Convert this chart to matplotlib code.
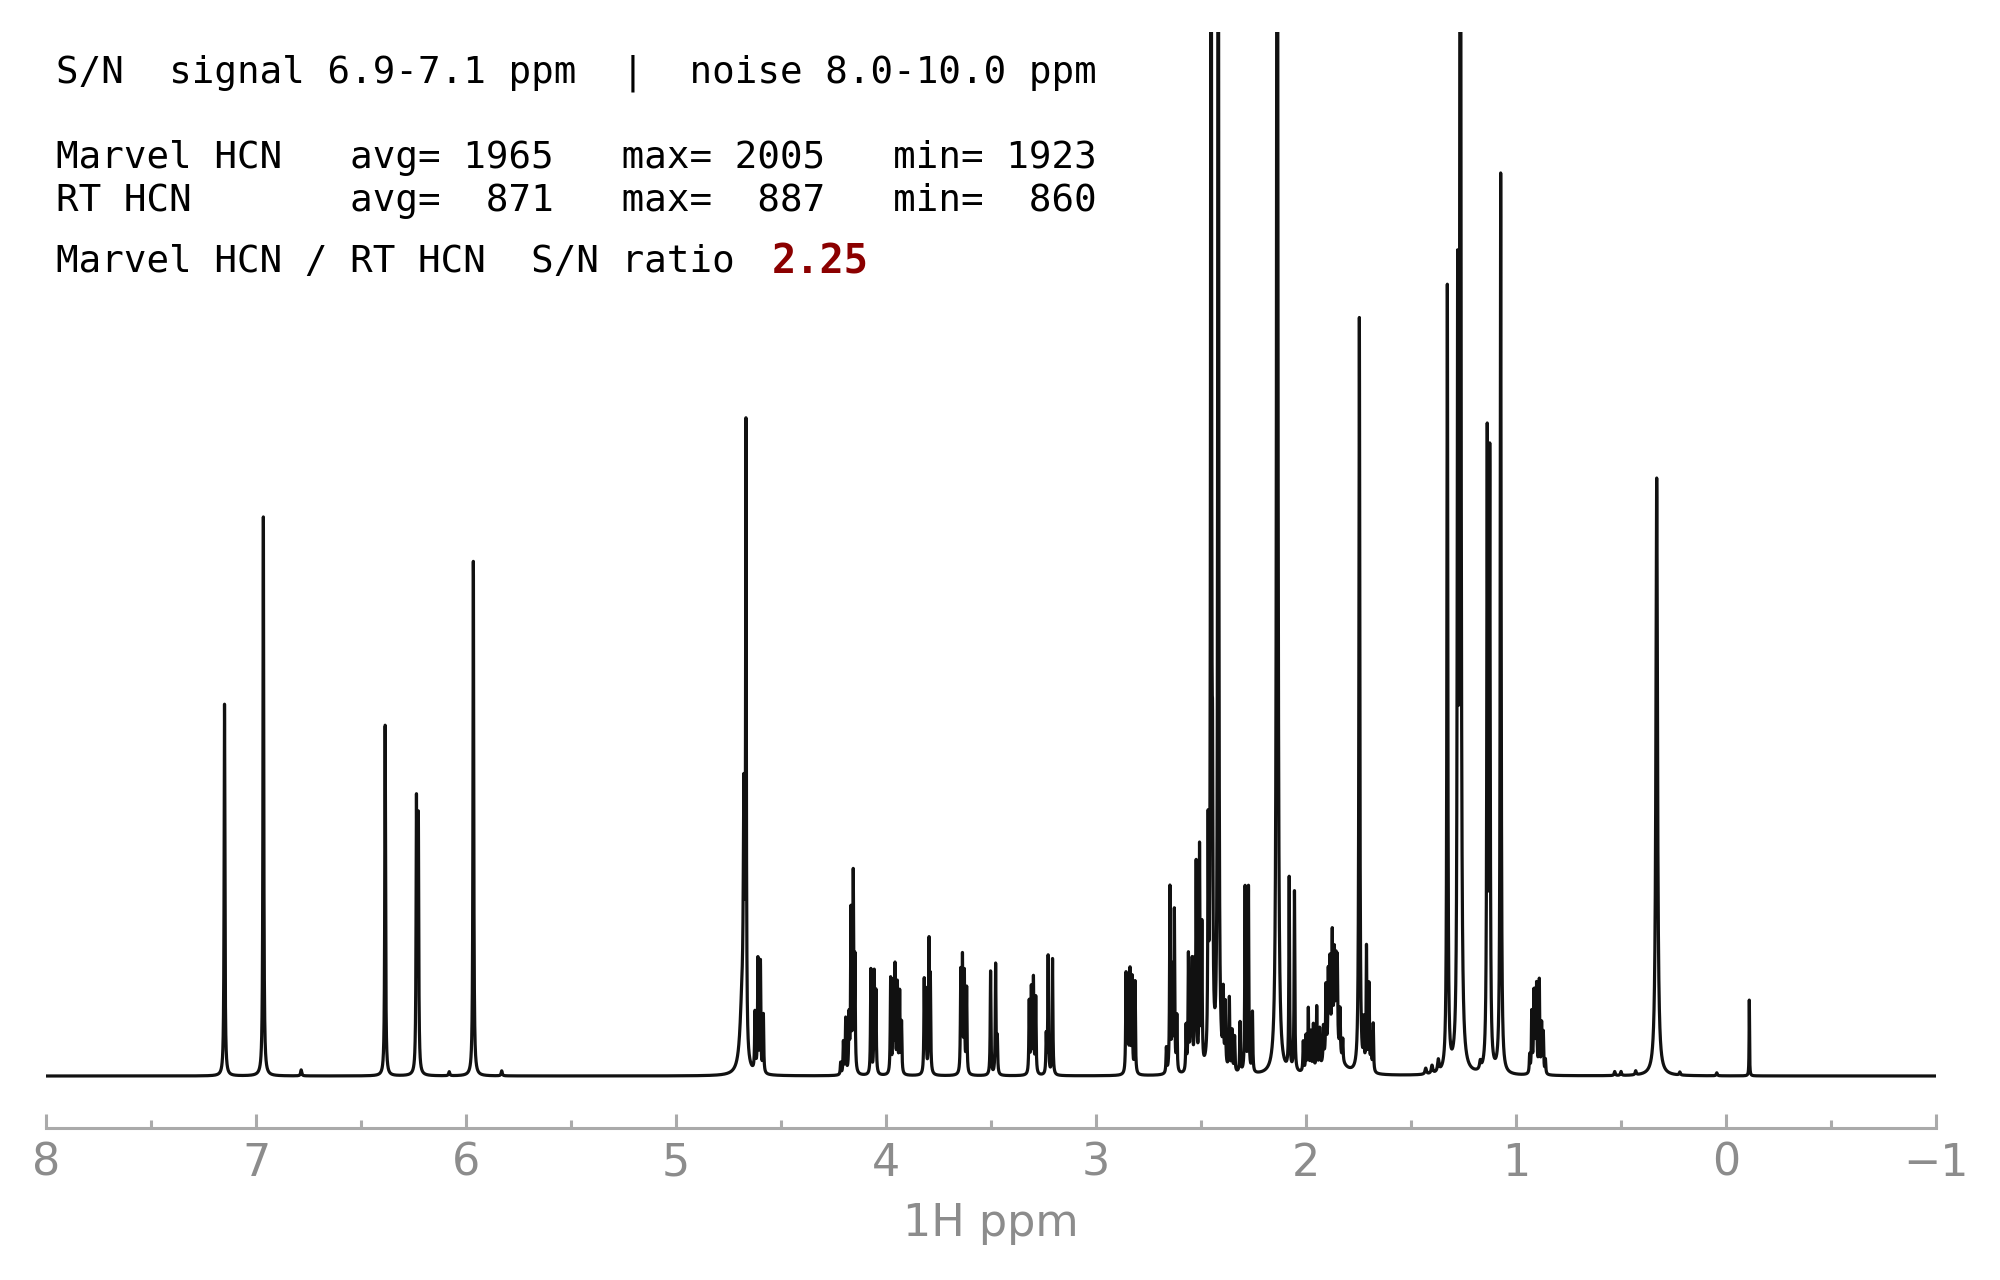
import numpy as np
import matplotlib
matplotlib.use("Agg")
import matplotlib.pyplot as plt

# peak table: shift (ppm), height (px above baseline), half width (ppm)
shifts = [
    7.150, 6.965, 6.785, 6.385, 6.236, 6.227, 6.080, 5.965, 5.830,
    4.685, 4.677, 4.667,
    4.624, 4.610, 4.598, 4.584,
    4.216, 4.203, 4.192, 4.176, 4.167, 4.156, 4.148,
    4.072, 4.056, 4.048,
    3.978, 3.966, 3.957, 3.946, 3.935, 3.926,
    3.818, 3.810, 3.795, 3.789,
    3.644, 3.636, 3.627, 3.616,
    3.502, 3.478, 3.470,
    3.318, 3.308, 3.298, 3.287,
    3.237, 3.228, 3.207,
    2.857, 2.848, 2.838, 2.828, 2.814,
    2.665, 2.648, 2.637, 2.627, 2.615,
    2.571, 2.560, 2.550, 2.542, 2.530, 2.523, 2.507, 2.496,
    2.466, 2.452, 2.445, 2.418,
    2.394, 2.384, 2.365, 2.352, 2.340, 2.314, 2.290, 2.274, 2.255,
    2.137,
    2.080, 2.055,
    2.013, 2.000, 1.989, 1.977, 1.965, 1.949, 1.935, 1.917, 1.905,
    1.894, 1.886, 1.875, 1.865, 1.857, 1.851, 1.838, 1.825, 1.870,
    1.746, 1.725, 1.712, 1.700, 1.690, 1.680,
    1.430, 1.400, 1.370,
    1.327, 1.278, 1.265, 1.170, 1.137, 1.125, 1.073,
    0.935, 0.925, 0.915, 0.910, 0.902, 0.889, 0.878, 0.870, 0.860,
    0.530, 0.500, 0.430, 0.330, 0.220, 0.044, -0.111,
]
heights = [
    372, 559, 6, 351, 268, 250, 4, 515, 5,
    70, 230, 618,
    58, 112, 110, 58,
    12, 32, 55, 55, 160, 195, 110,
    105, 100, 80,
    95, 88, 105, 88, 80, 50,
    92, 80, 128, 90,
    100, 112, 98, 85,
    104, 110, 35,
    72, 84, 94, 76,
    38, 118, 116,
    98, 92, 100, 94, 92,
    25, 185, 100, 160, 55,
    45, 115, 80, 105, 95, 200, 220, 140,
    215, 1800, 190, 1800,
    70, 62, 72, 40, 35, 50, 185, 185, 60,
    1900,
    192, 180,
    30, 35, 62, 38, 45, 62, 38, 35, 70,
    75, 80, 100, 80, 75, 82, 45, 22, 40,
    755, 45, 122, 85, 35, 48,
    6, 8, 12,
    785, 732, 1800, 8, 625, 604, 900,
    18, 60, 72, 70, 85, 92, 48, 40, 14,
    4, 4, 4, 598, 3, 3, 76,
]
widths = [
    0.0022, 0.0022, 0.003, 0.0022, 0.0022, 0.0022, 0.003, 0.0022, 0.003,
    0.012, 0.003, 0.002,
    0.002, 0.002, 0.002, 0.002,
    0.002, 0.002, 0.002, 0.002, 0.002, 0.002, 0.002,
    0.002, 0.002, 0.002,
    0.002, 0.002, 0.002, 0.002, 0.002, 0.002,
    0.002, 0.002, 0.002, 0.002,
    0.002, 0.002, 0.002, 0.002,
    0.002, 0.002, 0.002,
    0.002, 0.002, 0.002, 0.002,
    0.002, 0.002, 0.002,
    0.002, 0.002, 0.002, 0.002, 0.002,
    0.002, 0.002, 0.002, 0.002, 0.002,
    0.002, 0.002, 0.002, 0.002, 0.002, 0.002, 0.002, 0.002,
    0.002, 0.0022, 0.002, 0.0022,
    0.002, 0.002, 0.002, 0.002, 0.002, 0.002, 0.002, 0.002, 0.002,
    0.003,
    0.002, 0.002,
    0.002, 0.002, 0.002, 0.002, 0.002, 0.002, 0.002, 0.002, 0.002,
    0.002, 0.002, 0.002, 0.002, 0.002, 0.002, 0.002, 0.002, 0.03,
    0.0025, 0.002, 0.002, 0.002, 0.002, 0.002,
    0.004, 0.004, 0.004,
    0.0025, 0.0025, 0.003, 0.004, 0.0025, 0.0025, 0.0025,
    0.002, 0.002, 0.002, 0.002, 0.002, 0.002, 0.002, 0.002, 0.002,
    0.003, 0.003, 0.003, 0.0045, 0.003, 0.003, 0.0012,
]

header = "S/N  signal 6.9-7.1 ppm  |  noise 8.0-10.0 ppm"
sample_rows = [
    "Marvel HCN   avg= 1965   max= 2005   min= 1923",
    "RT HCN       avg=  871   max=  887   min=  860",
]
ratio_label = "Marvel HCN / RT HCN  S/N ratio"
ratio_value = "2.25"

ppm = np.linspace(8.0, -1.0, 60000)
spec = np.zeros_like(ppm)
for c, h, w in zip(shifts, heights, widths):
    spec += h * w**2 / ((ppm - c)**2 + w**2)

W, H = 2000, 1280
fig = plt.figure(figsize=(20, 12.8), dpi=100)
ax = fig.add_axes([46 / W, 1 - 1085 / H, 1890 / W, (1085 - 32) / H])
ax.plot(ppm, spec, color="#111111", lw=2.3)
ax.set_xlim(8, -1)
ax.set_ylim(-9, 1044)

grey = "#aaaaaa"
for s in ["left", "right", "top"]:
    ax.spines[s].set_visible(False)
ax.spines["bottom"].set_position(("outward", 31))
ax.spines["bottom"].set_color(grey)
ax.spines["bottom"].set_linewidth(2.2)
ax.set_yticks([])
ax.set_xticks(np.arange(8, -2, -1))
ax.set_xticks(np.arange(7.5, -1, -1), minor=True)
ax.tick_params(axis="x", which="major", direction="in", length=10, width=2.2,
               color=grey, labelcolor="#8c8c8c", labelsize=32, pad=10)
ax.tick_params(axis="x", which="minor", direction="in", length=5.5, width=2.2,
               color=grey)
ax.set_xlabel("1H ppm", fontsize=32, color="#8c8c8c", labelpad=12)

mono = "DejaVu Sans Mono"
fig.text(56 / W, 1 - 83 / H, header, family=mono, fontsize=27, va="baseline")
fig.text(56 / W, 1 - 168 / H, sample_rows[0], family=mono, fontsize=27, va="baseline")
fig.text(56 / W, 1 - 211 / H, sample_rows[1], family=mono, fontsize=27, va="baseline")
fig.text(56 / W, 1 - 272 / H, ratio_label, family=mono, fontsize=27, va="baseline")
fig.text(772 / W, 1 - 273 / H, ratio_value, family=mono, fontsize=29,
         fontweight="bold", color="#8b0000", va="baseline")

fig.savefig("out.png", dpi=100)
